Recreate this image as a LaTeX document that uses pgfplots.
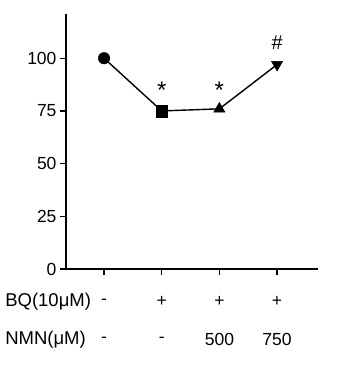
\documentclass[border=0pt]{standalone}
\usepackage{pgfplots}
\pgfplotsset{compat=1.18}
\usepackage{fontspec}
\setmainfont{Liberation Sans}
\tikzset{lbl/.style={font=\fontsize{17.5}{19}\selectfont}}
\begin{document}
\begin{tikzpicture}
\begin{axis}[
  at={(66pt,100pt)}, anchor=south west,
  width=252pt, height=255pt, scale only axis,
  axis lines=left, axis line style={-, line width=1.3pt},
  xmin=-0.66, xmax=3.71, ymin=0, ymax=121,
  xtick={0,1,2,3}, xticklabels={},
  ytick={0,25,50,75,100},
  tick align=outside, major tick length=6pt,
  tick style={line width=1.3pt, black},
  every tick label/.append style={font=\fontsize{17.5}{19}\selectfont},
  /pgf/number format/assume math mode=true,
  clip=false,
]
\addplot[black, line width=1.4pt, mark=none] coordinates {(0,100) (1,75) (2,76) (3,97)};
\addplot[black, only marks, mark=*, mark size=5.8pt] coordinates {(0,100)};
\addplot[black, only marks, mark=square*, mark size=5.8pt] coordinates {(1,75)};
\addplot[black, only marks, mark=triangle*, mark size=6.5pt] coordinates {(2,76)};
\addplot[black, only marks, mark=triangle*, mark size=6.5pt, every mark/.append style={rotate=180}] coordinates {(3,97)};
\node[font=\fontsize{24}{26}\selectfont] at (axis cs:1,85) {*};
\node[font=\fontsize{24}{26}\selectfont] at (axis cs:2,85) {*};
\node[font=\fontsize{20}{22}\selectfont] at (axis cs:3,107.5) {\#};
\node[lbl] at (axis cs:0,-15.6) {-};
\node[lbl] at (axis cs:1,-15.6) {+};
\node[lbl] at (axis cs:2,-15.6) {+};
\node[lbl] at (axis cs:3,-15.6) {+};
\node[lbl] at (axis cs:0,-33.6) {-};
\node[lbl] at (axis cs:1,-33.6) {-};
\node[lbl] at (axis cs:2,-33.6) {500};
\node[lbl] at (axis cs:3,-33.6) {750};
\node[font=\fontsize{18.5}{20}\selectfont, anchor=west, inner sep=0pt] at (axis cs:-1.716,-15.6) {BQ(10μM)};
\node[font=\fontsize{18.5}{20}\selectfont, anchor=west, inner sep=0pt] at (axis cs:-1.716,-33.6) {NMN(μM)};
\end{axis}
\pgfresetboundingbox
\path[use as bounding box] (0,0) rectangle (351pt,369pt);
\end{tikzpicture}
\end{document}
